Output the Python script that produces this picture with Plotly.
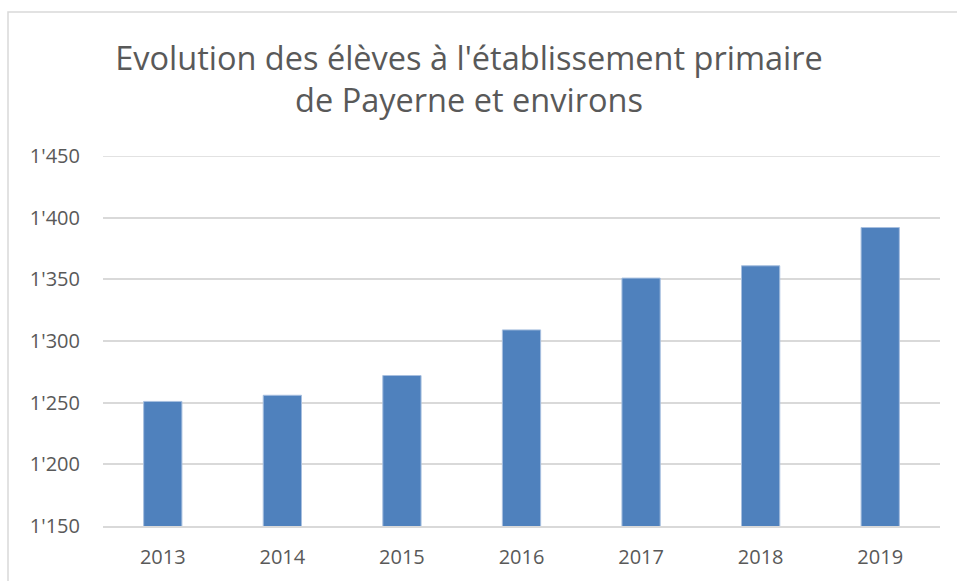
import plotly.graph_objects as go

years = ["2013", "2014", "2015", "2016", "2017", "2018", "2019"]
students = [1251, 1256, 1272, 1309, 1351, 1361, 1392]
y_tick_vals = [1150, 1200, 1250, 1300, 1350, 1400, 1450]
y_tick_text = ["1'150", "1'200", "1'250", "1'300", "1'350", "1'400", "1'450"]

W, H = 957, 581
L, R, T, B = 103, 17, 156, 55
pw, ph = W - L - R, H - T - B

FONT = "Open Sans"
GRAY = "#595959"
GRID = "#D9D9D9"

fig = go.Figure(
    go.Bar(
        x=years,
        y=students,
        marker=dict(color="#4F81BD", line=dict(color="#A7BFDF", width=1)),
    )
)

fig.update_layout(
    width=W,
    height=H,
    margin=dict(l=L, r=R, t=T, b=B, autoexpand=False),
    paper_bgcolor="white",
    plot_bgcolor="white",
    bargap=0.68,
    showlegend=False,
    font=dict(family=FONT, color=GRAY),
    title=dict(
        text="Evolution des élèves à l'établissement primaire<br>de Payerne et environs",
        font=dict(family=FONT, size=32.5, color=GRAY),
        x=469 / W,
        xanchor="center",
        xref="container",
        y=1 - 70 / H,
        yref="container",
        yanchor="middle",
    ),
    xaxis=dict(
        showgrid=False,
        showline=True,
        linecolor=GRID,
        linewidth=1.5,
        tickfont=dict(family=FONT, size=20, color=GRAY),
        ticks="",
        ticklabelstandoff=12,
    ),
    yaxis=dict(
        range=[y_tick_vals[0], y_tick_vals[-1]],
        tickvals=y_tick_vals,
        ticktext=y_tick_text,
        showgrid=True,
        gridcolor=GRID,
        gridwidth=1.5,
        zeroline=False,
        showline=False,
        tickfont=dict(family=FONT, size=20, color=GRAY),
        ticks="",
        ticklabelstandoff=22,
    ),
    shapes=[
        dict(
            type="rect",
            xref="paper",
            yref="paper",
            x0=(8 - L) / pw,
            x1=(W + 20 - L) / pw,
            y0=(H - B - (H + 20)) / ph,
            y1=(H - B - 12) / ph,
            line=dict(color=GRID, width=1.5),
            fillcolor="rgba(0,0,0,0)",
            layer="below",
        ),
        dict(
            type="line",
            xref="paper",
            yref="y",
            x0=0,
            x1=1,
            y0=y_tick_vals[-1],
            y1=y_tick_vals[-1],
            line=dict(color=GRID, width=1.5),
            layer="below",
        ),
    ],
)

fig.write_html(
    "out.html",
    config={"displayModeBar": False},
    post_script="document.body.style.margin='0';document.body.style.overflow='hidden';",
)
